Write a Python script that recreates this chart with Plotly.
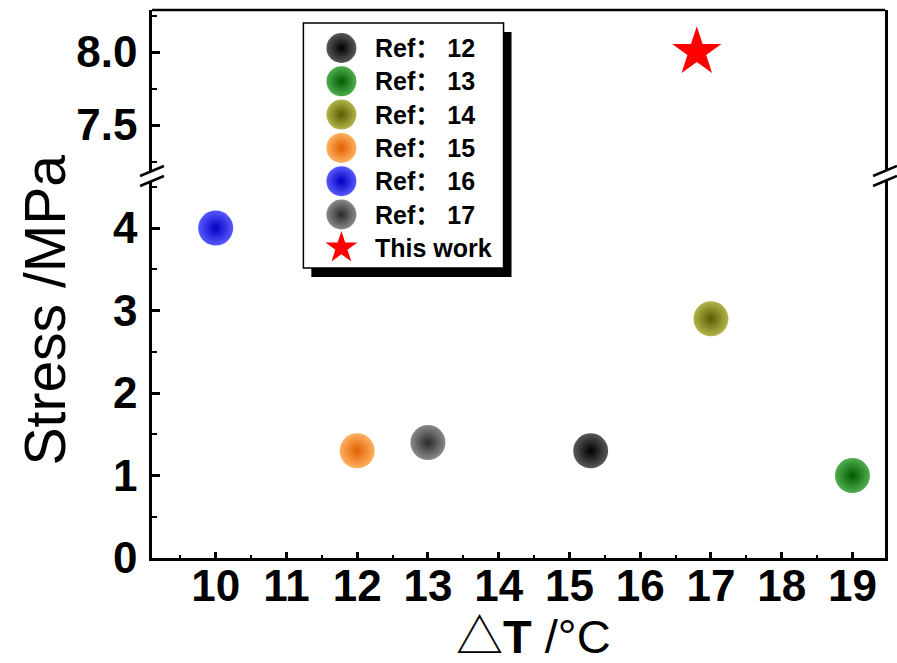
import plotly.graph_objects as go

# ---- data ----
labels = ["Ref：12", "Ref：13", "Ref：14", "Ref：15", "Ref：16", "Ref：17", "This work"]
delta_t = [15.3, 19.0, 17.0, 12.0, 10.0, 13.0, 16.8]
stress = [1.3, 1.0, 2.9, 1.3, 4.0, 1.4, 8.0]
edge_colors = ["#000000", "#005c00", "#5a5a00", "#e06000", "#0000c0", "#2a2a2a", "#ff0000"]
center_colors = ["#585858", "#4fae4f", "#b4b44c", "#ffb060", "#5858ff", "#8a8a8a", "#ff0000"]
symbols = ["circle"] * 6 + ["star"]

x_ticks = list(range(10, 20))
low_ticks = [0, 1, 2, 3, 4]
high_ticks = [7.5, 8.0]
break_at = 6.0  # values above this go on the upper panel

FONT = "Liberation Sans, Arial, Noto Sans CJK SC, DejaVu Sans, sans-serif"
W, H = 897, 663
ML, MR, MT, MB = 152, 9, 10, 105
PW, PH = W - ML - MR, H - MT - MB

def px_to_paper_x(px):
    return (px - ML) / PW

def px_to_paper_y(py):
    return (H - MB - py) / PH

low_dom = [0, px_to_paper_y(181)]
high_dom = [px_to_paper_y(171), 1]

def sphere_marker(sym, size, center, edge):
    m = dict(symbol=sym, size=size, line=dict(width=0))
    if sym == "circle":
        m.update(color=center, gradient=dict(type="radial", color=edge))
    else:
        m.update(color=edge, gradient=dict(type="none"))
    return m

fig = go.Figure()

# data points
for name, x, y, c0, c1, sym in zip(labels, delta_t, stress, center_colors, edge_colors, symbols):
    upper = y > break_at
    fig.add_trace(go.Scatter(
        x=[x], y=[y], mode="markers", name=name, showlegend=False,
        marker=sphere_marker(sym, 37 if sym == "star" else 35, c0, c1), cliponaxis=False,
        xaxis="x", yaxis="y2" if upper else "y",
    ))

# legend drawn on a helper subplot so the symbols can be large
for i, (c0, c1, sym) in enumerate(zip(center_colors, edge_colors, symbols)):
    fig.add_trace(go.Scatter(
        x=[0.19], y=[i], mode="markers", showlegend=False,
        marker=sphere_marker(sym, 24 if sym == "star" else 30, c0, c1),
        cliponaxis=False, xaxis="x3", yaxis="y3", hoverinfo="skip",
    ))

annotations = []
for i, lab in enumerate(labels):
    text = lab.replace("：", "： ")
    annotations.append(dict(
        x=0.35, y=i, xref="x3", yref="y3", text=text, showarrow=False,
        xanchor="left", yanchor="middle",
        font=dict(family=FONT, size=25, color="black", weight="bold"),
    ))

annotations.append(dict(
    x=px_to_paper_x(45), y=px_to_paper_y(310), xref="paper", yref="paper",
    xanchor="center", yanchor="middle",
    text="Stress /MPa", textangle=-90, showarrow=False,
    font=dict(family=FONT, size=57, color="black"),
))
annotations.append(dict(
    x=px_to_paper_x(535), y=px_to_paper_y(636), xref="paper", yref="paper",
    xanchor="center", yanchor="middle",
    text="△<b>T</b> /°C", showarrow=False,
    font=dict(family=FONT, size=47, color="black"),
))

shapes = []
# legend shadow and frame
bx0, bx1, by0, by1 = 304, 505, 23, 268
shapes.append(dict(type="rect", xref="paper", yref="paper", layer="below",
                   x0=px_to_paper_x(bx0 + 8), x1=px_to_paper_x(bx1 + 8),
                   y0=px_to_paper_y(by0 + 9), y1=px_to_paper_y(by1 + 9),
                   fillcolor="black", line=dict(width=0)))
shapes.append(dict(type="rect", xref="paper", yref="paper", layer="below",
                   x0=px_to_paper_x(bx0), x1=px_to_paper_x(bx1),
                   y0=px_to_paper_y(by0), y1=px_to_paper_y(by1),
                   fillcolor="white", line=dict(color="black", width=1.5)))
# top border
shapes.append(dict(type="line", xref="paper", yref="paper", x0=0, x1=1, y0=1, y1=1,
                   line=dict(color="black", width=2.5)))
# axis break marks
dx, dy = 12 / PW, 5 / PH
for xe in (0, 1):
    for ye in (high_dom[0], low_dom[1]):
        shapes.append(dict(type="line", xref="paper", yref="paper",
                           x0=xe - dx, x1=xe + dx, y0=ye - dy, y1=ye + dy,
                           line=dict(color="black", width=2.5)))

tick_font = dict(family=FONT, size=44, color="black", weight="bold")
axis_common = dict(showline=True, linecolor="black", linewidth=2.5, showgrid=False,
                   zeroline=False, ticks="inside", tickcolor="black", tickwidth=2.5,
                   tickfont=tick_font)

fig.update_layout(
    width=W, height=H,
    margin=dict(l=ML, r=MR, t=MT, b=MB),
    paper_bgcolor="white", plot_bgcolor="rgba(0,0,0,0)",
    showlegend=False,
    xaxis=dict(**axis_common, domain=[0, 1], anchor="y", range=[9.1, 19.46],
               tickmode="array", tickvals=x_ticks, ticklen=6, ticklabelstandoff=-13,
               minor=dict(ticks="inside", ticklen=3, tickwidth=2, tickcolor="black",
                          tick0=9.5, dtick=1)),
    yaxis=dict(**axis_common, domain=low_dom, anchor="x", range=[0, 4.57], mirror=True,
               tickmode="array", tickvals=low_ticks, ticklen=8, ticklabelstandoff=3,
               minor=dict(ticks="inside", ticklen=5, tickwidth=2, tickcolor="black",
                          tick0=0.5, dtick=1)),
    yaxis2=dict(**axis_common, domain=high_dom, anchor="x", range=[7.185, 8.288], mirror=True,
                tickmode="array", tickvals=high_ticks, ticktext=[f"{v:.1f}" for v in high_ticks],
                ticklen=8, ticklabelstandoff=3,
                minor=dict(ticks="inside", ticklen=5, tickwidth=2, tickcolor="black",
                           tick0=7.25, dtick=0.5)),
    xaxis3=dict(domain=[px_to_paper_x(bx0), px_to_paper_x(bx1)], range=[0, 1],
                visible=False, anchor="y3", fixedrange=True),
    yaxis3=dict(domain=[px_to_paper_y(48 + 6.5 * 33.3), px_to_paper_y(48 - 0.5 * 33.3)],
                range=[6.5, -0.5], visible=False, anchor="x3", fixedrange=True),
    annotations=annotations,
    shapes=shapes,
)

fig.write_html("out.html")
